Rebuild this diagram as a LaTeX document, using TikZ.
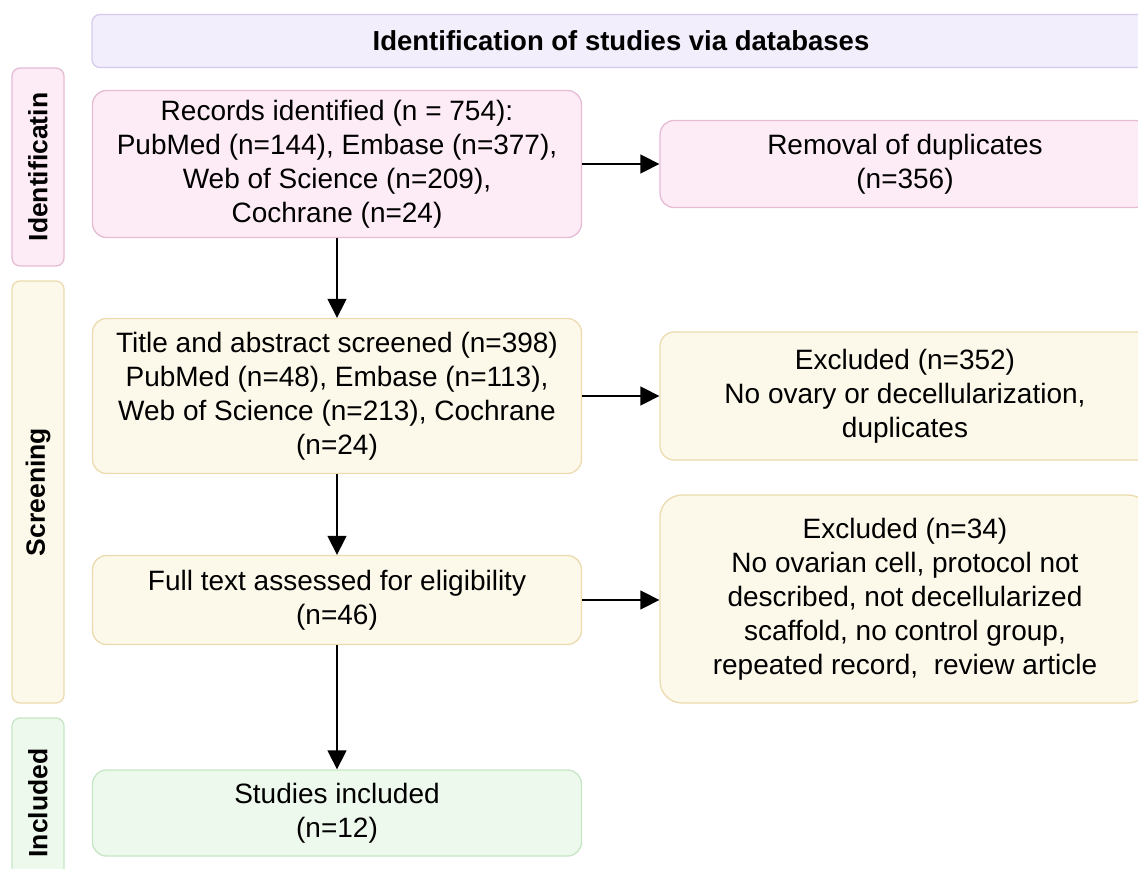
\documentclass[tikz,border=0pt]{standalone}
\usepackage{fontspec}
\setmainfont{Liberation Sans}
\usepackage{xcolor}
\usetikzlibrary{arrows.meta,positioning}
\definecolor{pinkbg}{HTML}{FDECF5}
\definecolor{pinkln}{HTML}{E6BCD5}
\definecolor{yelbg}{HTML}{FCF8EA}
\definecolor{yelln}{HTML}{EBDBAE}
\definecolor{grnbg}{HTML}{EEF9EE}
\definecolor{grnln}{HTML}{C6E6C4}
\definecolor{lavbg}{HTML}{F2EEFB}
\definecolor{lavln}{HTML}{D6CAEC}

\begin{document}
\begin{tikzpicture}[
  x=1pt, y=-1pt,
  box/.style={draw, line width=1.3pt, rounded corners=14pt, align=center, inner sep=0pt,
    font=\fontsize{28}{34}\selectfont, text=black},
  sidelbl/.style={draw, line width=1.3pt, rounded corners=8pt, align=center, inner sep=0pt,
    font=\fontsize{26.5}{30}\selectfont\bfseries, rotate=90, text=black},
  arr/.style={-{Triangle[length=19pt, width=19pt]}, line width=1.4pt, black},
]
  \useasboundingbox (0,0) rectangle (1138,869);

  % header and phase labels
  \node[box, fill=lavbg, draw=lavln, rounded corners=8pt, minimum width=1058pt, minimum height=53pt,
        font=\fontsize{27.5}{30}\selectfont\bfseries] (head) at (621,41) {Identification of studies via databases};
  \node[sidelbl, fill=pinkbg, draw=pinkln, minimum width=198pt, minimum height=52pt] (lid) at (38,167) {Identificatin};
  \node[sidelbl, fill=yelbg, draw=yelln, minimum width=422pt, minimum height=52pt] (lscr) at (38,492) {Screening};
  \node[sidelbl, fill=grnbg, draw=grnln, minimum width=170pt, minimum height=52pt] (linc) at (38,803) {Included};

  % main column
  \node[box, fill=pinkbg, draw=pinkln, minimum width=489pt, minimum height=147pt] (rec) at (337,164)
    {Records identified (n = 754):\\PubMed (n=144), Embase (n=377),\\Web of Science (n=209),\\Cochrane (n=24)};
  \node[box, fill=yelbg, draw=yelln, minimum width=489pt, minimum height=155pt] (tas) at (337,396)
    {Title and abstract screened (n=398)\\PubMed (n=48), Embase (n=113),\\Web of Science (n=213), Cochrane\\(n=24)};
  \node[box, fill=yelbg, draw=yelln, minimum width=489pt, minimum height=89pt] (full) at (337,600)
    {Full text assessed for eligibility\\(n=46)};
  \node[box, fill=grnbg, draw=grnln, minimum width=489pt, minimum height=86pt] (inc) at (337,813)
    {Studies included\\(n=12)};

  % exclusions
  \node[box, fill=pinkbg, draw=pinkln, minimum width=490pt, minimum height=87pt] (dup) at (905,164)
    {Removal of duplicates\\(n=356)};
  \node[box, fill=yelbg, draw=yelln, minimum width=490pt, minimum height=128pt] (ex1) at (905,396)
    {Excluded (n=352)\\No ovary or decellularization,\\duplicates};
  \node[box, fill=yelbg, draw=yelln, minimum width=490pt, minimum height=208pt, rounded corners=22pt] (ex2) at (905,599)
    {Excluded (n=34)\\No ovarian cell, protocol not\\described, not decellularized\\scaffold, no control group,\\repeated record,\ \ review article};

  \draw[arr] (rec) -- (tas);
  \draw[arr] (tas) -- (full);
  \draw[arr] (full) -- (inc);
  \draw[arr] (rec.east |- dup) -- (dup);
  \draw[arr] (tas) -- (ex1);
  \draw[arr] (full) -- (ex2.west |- full);
\end{tikzpicture}
\end{document}
